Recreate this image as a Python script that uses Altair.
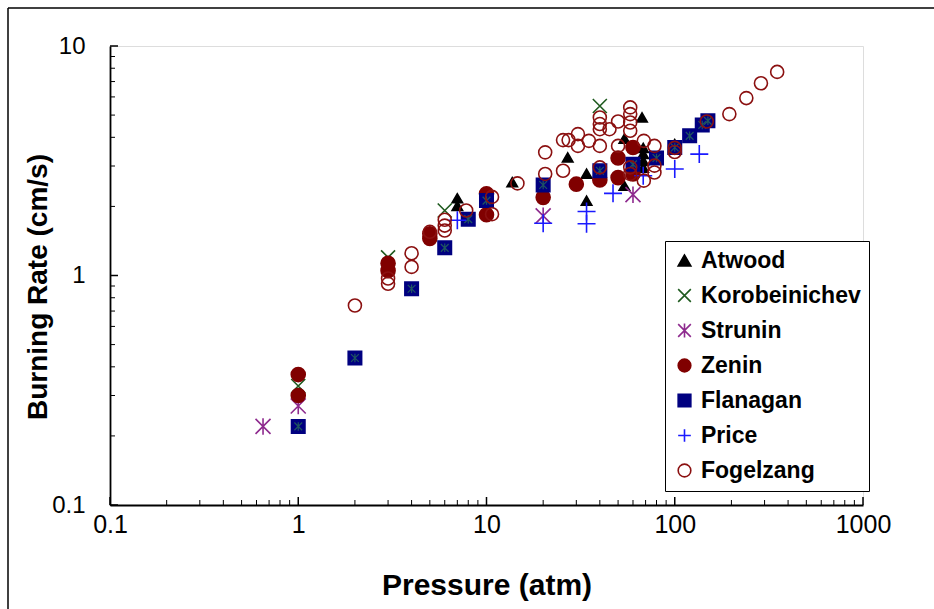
import altair as alt
import pandas as pd

series = ["Atwood", "Korobeinichev", "Strunin", "Zenin", "Flanagan", "Price", "Fogelzang"]

atwood_p = [7, 7, 13.7, 27, 34, 34, 54, 54, 67, 68, 68, 68, 68, 100]
atwood_r = [2.17, 2.01, 2.55, 3.27, 2.78, 2.12, 3.95, 2.46, 4.88, 3.6, 3.39, 3.16, 2.95, 3.74]

korob_p = [1, 3, 6, 40]
korob_r = [0.33, 1.2, 1.92, 5.48]

strunin_p = [0.65, 1, 20, 60]
strunin_r = [0.22, 0.27, 1.82, 2.25]

zenin_p = [1, 1, 3, 3, 5, 5, 10, 10, 20, 30, 40, 50, 50, 60, 60]
zenin_r = [0.37, 0.30, 1.13, 1.05, 1.52, 1.45, 2.27, 1.84, 2.19, 2.5, 2.61, 3.25, 2.67, 3.61, 2.77]

flanagan_p = [1, 2, 4, 6, 8, 10, 20, 40, 60, 80, 100, 120, 140, 150]
flanagan_r = [0.22, 0.437, 0.875, 1.32, 1.76, 2.12, 2.48, 2.86, 3.05, 3.25, 3.61, 4.06, 4.53, 4.72]

price_p = [7, 20, 34, 34, 47, 68, 100, 135]
price_r = [1.74, 1.69, 1.9, 1.68, 2.28, 2.72, 2.91, 3.38]

fogel_p = [2, 3, 3, 4, 4, 5, 6, 6, 6, 7.8, 10.7, 10.7, 14.6, 20.5, 20.5, 25.5, 25.5, 27.3,
           30.6, 30.6, 35, 40, 40, 40, 40, 45, 50, 50, 58, 58, 58, 58, 40, 58, 58, 68.5,
           68.5, 78, 78, 78, 100, 100, 148, 195, 240, 287, 350]
fogel_r = [0.74, 0.97, 0.92, 1.25, 1.09, 1.55, 1.75, 1.65, 1.57, 1.92, 2.2, 1.85, 2.52, 3.44, 2.77,
           2.86, 3.89, 3.89, 4.13, 3.67, 3.86, 3.67, 4.88, 4.57, 4.34, 4.34, 4.69, 3.67, 5.4, 5.05,
           4.64, 4.27, 2.96, 2.96, 2.77, 3.86, 2.59, 3.67, 3.01, 2.81, 3.6, 3.45, 4.69, 5.05, 5.93,
           6.88, 7.71]

x_major = [0.1, 1, 10, 100, 1000]
x_minor = [0.2, 0.3, 0.4, 0.5, 0.6, 0.7, 0.8, 0.9, 2, 3, 4, 5, 6, 7, 8, 9,
           20, 30, 40, 50, 60, 70, 80, 90, 200, 300, 400, 500, 600, 700, 800, 900]
y_major = [0.1, 1, 10]
y_minor = [0.2, 0.3, 0.4, 0.5, 0.6, 0.7, 0.8, 0.9, 2, 3, 4, 5, 6, 7, 8, 9]

X_PATH = "M-1,-1L1,1M-1,1L1,-1"
AST_PATH = "M-1,-1L1,1M-1,1L1,-1M0,-1.1L0,1.1"
PLUS_PATH = "M-1,0L1,0M0,-1L0,1"

shapes = ["triangle-up", X_PATH, AST_PATH, "circle", "square", PLUS_PATH, "circle"]
fills = ["#000000", "transparent", "transparent", "#800000", "#000080", "transparent", "transparent"]
strokes = ["#000000", "#1e5a1e", "#8e2a8e", "#800000", "#000080", "#1a1aff", "#8b1010"]
sizes = [110, 196, 225, 196, 180, 324, 169]

data_lists = [(atwood_p, atwood_r), (korob_p, korob_r), (strunin_p, strunin_r),
              (zenin_p, zenin_r), (flanagan_p, flanagan_r), (price_p, price_r),
              (fogel_p, fogel_r)]

rows = []
for name, (ps, rs) in zip(series, data_lists):
    for p, r in zip(ps, rs):
        rows.append({"series": name, "p": p, "r": r})
df = pd.DataFrame(rows)

W, H = 753, 459
FONT = "Liberation Sans"
LBL = "datum.value >= 1 ? format(datum.value, 'd') : format(datum.value, '.1f')"

xscale = alt.Scale(type="log", domain=[0.1, 1000], nice=False)
yscale = alt.Scale(type="log", domain=[0.1, 10], nice=False)
xaxis = alt.Axis(values=x_major, ticks=False, grid=False, title="Pressure (atm)",
                 labelExpr=LBL, labelFlush=False, labelOverlap=False,
                 labelPadding=7, labelFontSize=25, titleFontSize=30,
                 titleX=W / 2, titleY=80, titleBaseline="middle")
yaxis = alt.Axis(values=y_major, ticks=False, grid=False, title="Burning Rate (cm/s)",
                 labelExpr=LBL, labelFlush=False, labelOverlap=False,
                 labelPadding=25, labelFontSize=24, titleFontSize=28,
                 titleX=-72, titleY=H / 2 + 11, titleAngle=-90, titleBaseline="middle")

leg = alt.Legend(title=None)
shape_enc = alt.Shape("series:N", scale=alt.Scale(domain=series, range=shapes), legend=leg)
fill_enc = alt.Fill("series:N", scale=alt.Scale(domain=series, range=fills), legend=leg)
stroke_enc = alt.Stroke("series:N", scale=alt.Scale(domain=series, range=strokes), legend=leg)

layers = []

# outer frame
frame = pd.DataFrame({"k": [0]})
layers.append(alt.Chart(frame).mark_rule(color="black", strokeWidth=1.5).encode(
    x=alt.value(-102), y=alt.value(-38), y2=alt.value(H + 120)))
layers.append(alt.Chart(frame).mark_rule(color="black", strokeWidth=1.5).encode(
    x=alt.value(-102), x2=alt.value(W + 100), y=alt.value(-38)))

# tick marks (inside)
xt = pd.DataFrame({"p": x_minor})
xtM = pd.DataFrame({"p": x_major})
yt = pd.DataFrame({"r": y_minor})
ytM = pd.DataFrame({"r": y_major})
layers.append(alt.Chart(xt).mark_rule(color="black", strokeWidth=1).encode(
    x=alt.X("p:Q", scale=xscale, axis=xaxis), y=alt.value(H), y2=alt.value(H - 5)))
layers.append(alt.Chart(xtM).mark_rule(color="black", strokeWidth=1.5).encode(
    x=alt.X("p:Q", scale=xscale, axis=xaxis), y=alt.value(H), y2=alt.value(H - 8)))
layers.append(alt.Chart(yt).mark_rule(color="black", strokeWidth=1).encode(
    y=alt.Y("r:Q", scale=yscale, axis=yaxis), x=alt.value(0), x2=alt.value(5)))
layers.append(alt.Chart(ytM).mark_rule(color="black", strokeWidth=1.5).encode(
    y=alt.Y("r:Q", scale=yscale, axis=yaxis), x=alt.value(0), x2=alt.value(8)))

for name, size in zip(series, sizes):
    layers.append(
        alt.Chart(df).transform_filter(alt.datum.series == name).mark_point(
            size=size, strokeWidth=1.6, opacity=1, filled=False
        ).encode(
            x=alt.X("p:Q", scale=xscale, axis=xaxis),
            y=alt.Y("r:Q", scale=yscale, axis=yaxis),
            shape=shape_enc, fill=fill_enc, stroke=stroke_enc,
        )
    )
    if name == "Flanagan":
        layers.append(
            alt.Chart(df).transform_filter(alt.datum.series == name).mark_point(
                size=60, strokeWidth=1.2, opacity=1, filled=False
            ).encode(
                x=alt.X("p:Q", scale=xscale, axis=xaxis),
                y=alt.Y("r:Q", scale=yscale, axis=yaxis),
                shape=alt.value(AST_PATH), stroke=alt.value("#1f5560"), fill=alt.value("transparent"),
            )
        )

chart = alt.layer(*layers).properties(
    width=W, height=H,
    autosize=alt.AutoSizeParams(type="none"),
    padding={"left": 110, "top": 46, "right": 934 - 110 - W, "bottom": 609 - 46 - H},
).configure_view(
    stroke="black", strokeWidth=1.5, fill="white"
).configure(background="white").configure_axis(
    domainColor="black", domainWidth=1.8,
    labelFont=FONT, labelColor="black",
    titleFont=FONT, titleFontWeight="bold", titleColor="black",
).configure_legend(
    orient="none", legendX=555, legendY=195,
    padding=8, rowPadding=11, labelOffset=5,
    labelFont=FONT, labelFontSize=23, labelFontWeight="bold", labelColor="black",
    symbolSize=160, symbolStrokeWidth=1.6,
    strokeColor="black", fillColor="white", cornerRadius=0,
)

chart.save("out.html", embed_options={"renderer": "svg", "actions": False})
